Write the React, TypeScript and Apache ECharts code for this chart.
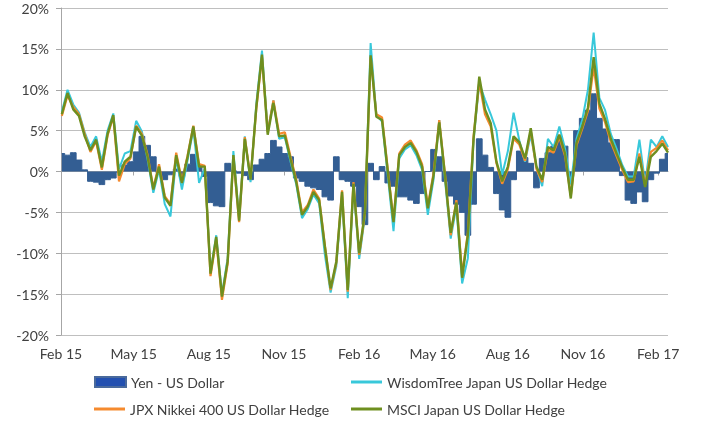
import React, { useEffect, useRef } from "react";
import * as echarts from "echarts";

// Weekly observations starting at startDate (one value per week)
const startDate = "2015-02-02";
const stepDays = 7;
const axisOrigin = "2015-02-01";

const tickDates = [
  "2015-02-01", "2015-05-01", "2015-08-01", "2015-11-01", "2016-02-01",
  "2016-05-01", "2016-08-01", "2016-11-01", "2017-02-01",
];
const tickLabels = [
  "Feb 15", "May 15", "Aug 15", "Nov 15", "Feb 16", "May 16", "Aug 16", "Nov 16", "Feb 17",
];
const yTicks = { min: -20, max: 20, interval: 5 };

const seriesNames = [
  "Yen - US Dollar",
  "WisdomTree Japan US Dollar Hedge",
  "JPX Nikkei 400 US Dollar Hedge",
  "MSCI Japan US Dollar Hedge",
];

const yenUsd = [
  2.2, 2.0, 2.3, 1.4, 0.2, -1.2, -1.3, -1.6, -1.0, -0.8,
  -0.1, 0.8, 1.2, 2.4, 4.3, 3.2, 1.8, -0.2, -1.0, -0.4,
  0.3, -0.6, 0.9, 2.1, 0.8, -0.6, -3.8, -4.2, -4.3, 1.0,
  0.1, -0.2, -0.5, -1.0, 0.8, 1.5, 2.2, 3.8, 3.0, 2.2,
  1.8, -0.8, -1.2, -1.8, -2.0, -2.2, -3.1, -3.5, 1.8, -1.0,
  -1.2, -1.8, -4.3, -6.5, 1.0, -1.0, 0.6, -1.4, -1.8, -3.1,
  -3.1, -3.5, -3.9, -2.7, 0.0, 2.7, 1.8, -1.2, -3.0, -4.0,
  -5.0, -7.8, -4.0, 4.0, 2.0, 0.5, -2.7, -4.7, -5.6, -1.0,
  2.5, 1.7, 1.0, -2.0, 1.6, 2.3, 3.1, 4.3, 3.1, -0.6,
  5.0, 6.5, 7.5, 9.5, 6.5, 5.2, 3.5, 3.9, -0.5, -3.5,
  -3.9, -2.5, -3.7, -1.0, -0.2, 1.5, 2.2,
];

const wisdomTree = [
  7.3, 10.0, 8.2, 7.2, 4.8, 3.0, 4.3, 1.2, 5.0, 7.1,
  0.3, 2.2, 2.5, 6.2, 4.9, 1.5, -2.6, 0.2, -4.0, -5.5,
  1.6, -2.2, 1.4, 5.2, -1.4, 0.4, -12.3, -7.8, -15.0, -10.6,
  2.5, -5.7, 4.3, -1.3, 8.2, 14.8, 4.9, 8.7, 4.0, 4.2,
  1.2, -1.6, -5.7, -4.6, -2.8, -3.9, -10.2, -14.8, -11.6, -2.9,
  -15.5, -1.8, -10.7, -5.5, 15.7, 6.9, 6.1, -0.5, -7.3, 1.6,
  2.7, 3.2, 2.0, 0.2, -5.3, -1.0, 6.3, -1.0, -8.2, -4.3,
  -13.7, -10.6, 3.8, 10.8, 8.8, 7.0, 5.0, -0.4, 2.5, 7.2,
  3.8, 1.2, 4.5, 0.5, -1.8, 4.0, 3.0, 5.5, 2.8, -1.6,
  4.0, 6.3, 10.0, 17.0, 9.0, 7.5, 4.6, 2.8, 0.8, -0.6,
  -0.6, 3.9, -1.5, 3.9, 3.0, 4.3, 3.0,
];

const jpxNikkei = [
  6.8, 9.3, 7.9, 7.0, 4.6, 2.4, 3.7, 0.2, 4.4, 6.7,
  -1.2, 0.9, 1.6, 5.6, 4.6, 2.0, -2.0, 0.9, -3.0, -4.0,
  2.3, -1.2, 2.0, 5.6, 0.9, 0.7, -12.8, -8.3, -15.7, -11.3,
  1.8, -6.2, 4.2, -0.8, 7.6, 14.0, 4.8, 8.7, 4.6, 4.8,
  1.8, -1.0, -5.0, -4.1, -2.2, -3.3, -9.0, -14.5, -11.2, -2.3,
  -14.7, -1.3, -10.2, -5.2, 14.0, 7.0, 6.6, 0.3, -6.0, 2.2,
  3.3, 3.8, 2.6, 0.9, -4.2, -0.2, 6.3, -0.3, -7.8, -3.5,
  -12.6, -7.5, 4.3, 11.0, 7.0, 5.5, 1.0, -1.5, 0.3, 4.0,
  3.3, 1.3, 5.0, 0.3, -1.3, 2.7, 2.3, 4.2, 1.9, -3.0,
  3.2, 5.2, 7.4, 12.8, 7.7, 6.0, 3.6, 1.9, 0.2, -1.3,
  -1.2, 2.2, -1.6, 2.4, 2.9, 3.8, 2.6,
];

const msciJapan = [
  7.0, 9.6, 7.6, 6.8, 4.3, 2.6, 3.9, 0.5, 4.6, 6.9,
  -0.5, 1.2, 1.8, 5.5, 4.4, 1.8, -2.2, 0.6, -3.2, -4.2,
  2.0, -1.4, 1.8, 5.5, 0.6, 0.6, -12.5, -8.0, -15.3, -11.0,
  2.0, -6.0, 4.0, -1.0, 7.8, 14.3, 4.5, 8.4, 4.3, 4.4,
  1.5, -1.3, -5.3, -4.3, -2.5, -3.5, -9.2, -14.3, -11.0, -2.5,
  -14.5, -1.5, -10.0, -5.0, 14.2, 6.7, 6.3, 0.0, -6.2, 2.0,
  3.0, 3.5, 2.4, 0.6, -4.5, -0.5, 6.0, -0.5, -7.5, -3.8,
  -13.0, -7.8, 4.0, 11.6, 7.6, 5.9, 1.2, -1.2, 0.6, 4.3,
  3.6, 1.6, 5.3, 0.6, -1.0, 3.0, 2.6, 4.5, 2.2, -3.3,
  3.5, 5.5, 7.8, 14.0, 8.3, 6.4, 4.0, 2.2, 0.5, -1.0,
  -1.0, 1.8, -1.9, 1.8, 2.5, 3.4, 2.3,
];

const DAY = 86400000;
const dayOf = (s: string) => Math.round((Date.parse(s) - Date.parse(axisOrigin)) / DAY);
const firstDay = dayOf(startDate);
const toPoints = (vals: number[]) => vals.map((v, i) => [firstDay + i * stepDays, v]);
const tickDays = tickDates.map(dayOf);

const FONT = "Lato";
const TEXT = "#404040";
const GRID_GRAY = "#BFBFBF";
const AXIS_GRAY = "#A6A6A6";

export default function App() {
  const ref = useRef<HTMLDivElement>(null);
  useEffect(() => {
    if (!ref.current) return;
    const chart = echarts.init(ref.current, undefined, { renderer: "svg" });
    const lastDay = firstDay + (yenUsd.length - 1) * stepDays;
    const legendText = { fontFamily: FONT, fontSize: 14, color: TEXT };
    const mkLegend = (name: string, left: number, top: number, extra: any = {}) => ({
      data: [extra.item ? { name, itemStyle: extra.item } : name],
      left,
      top,
      padding: 0,
      icon: "rect",
      itemWidth: 31,
      itemHeight: extra.h || 3,
      itemGap: 0,
      textStyle: legendText,
      selectedMode: false,
    });
    chart.setOption({
      animation: false,
      textStyle: { fontFamily: FONT },
      grid: { left: 61, right: 38, top: 8, bottom: 92, containLabel: false },
      xAxis: [
        {
          type: "value",
          min: 0,
          max: lastDay,
          position: "bottom",
          axisLine: { show: false, onZero: false },
          axisTick: { show: false },
          splitLine: { show: false },
          axisLabel: {
            customValues: tickDays,
            formatter: (v: number) => tickLabels[tickDays.indexOf(Math.round(v))] ?? "",
            fontFamily: FONT,
            fontSize: 14,
            color: TEXT,
            margin: 11,
            showMinLabel: true,
            showMaxLabel: true,
          },
        },
        {
          type: "value",
          min: 0,
          max: lastDay,
          position: "top",
          axisLine: { show: true, onZero: true, lineStyle: { color: AXIS_GRAY, width: 1 } },
          axisTick: {
            show: true,
            inside: true,
            length: 4,
            customValues: tickDays,
            lineStyle: { color: AXIS_GRAY },
          },
          axisLabel: { show: false },
          splitLine: { show: false },
        },
      ],
      yAxis: {
        type: "value",
        min: yTicks.min,
        max: yTicks.max,
        interval: yTicks.interval,
        axisLine: { show: true, lineStyle: { color: AXIS_GRAY, width: 1 } },
        axisTick: { show: true, length: 5, lineStyle: { color: AXIS_GRAY } },
        axisLabel: {
          formatter: "{value}%",
          fontFamily: FONT,
          fontSize: 14,
          color: TEXT,
          margin: 12,
        },
        splitLine: { lineStyle: { color: GRID_GRAY, width: 1 } },
      },
      legend: [
        mkLegend(seriesNames[0], 94, 375, {
          h: 10,
          item: { color: "#2350B0", borderColor: "#4A6A9C", borderWidth: 2 },
        }),
        mkLegend(seriesNames[1], 351, 375),
        mkLegend(seriesNames[2], 94, 402),
        mkLegend(seriesNames[3], 351, 402),
      ],
      series: [
        {
          name: seriesNames[0],
          type: "line",
          step: "middle",
          data: toPoints(yenUsd),
          symbol: "none",
          color: "#335E93",
          lineStyle: { color: "#335E93", width: 1 },
          areaStyle: { color: "#335E93", opacity: 1 },
        },
        {
          name: seriesNames[1],
          type: "line",
          data: toPoints(wisdomTree),
          symbol: "none",
          color: "#38C8DA",
          lineStyle: { color: "#38C8DA", width: 2 },
        },
        {
          name: seriesNames[2],
          type: "line",
          data: toPoints(jpxNikkei),
          symbol: "none",
          color: "#F58A2E",
          lineStyle: { color: "#F58A2E", width: 2.2 },
        },
        {
          name: seriesNames[3],
          type: "line",
          data: toPoints(msciJapan),
          symbol: "none",
          color: "#6E8F1F",
          lineStyle: { color: "#6E8F1F", width: 2.4 },
        },
      ],
    });
    return () => chart.dispose();
  }, []);
  return (
    <div
      ref={ref}
      style={{ position: "fixed", left: 0, top: 0, width: 706, height: 427 }}
    />
  );
}
